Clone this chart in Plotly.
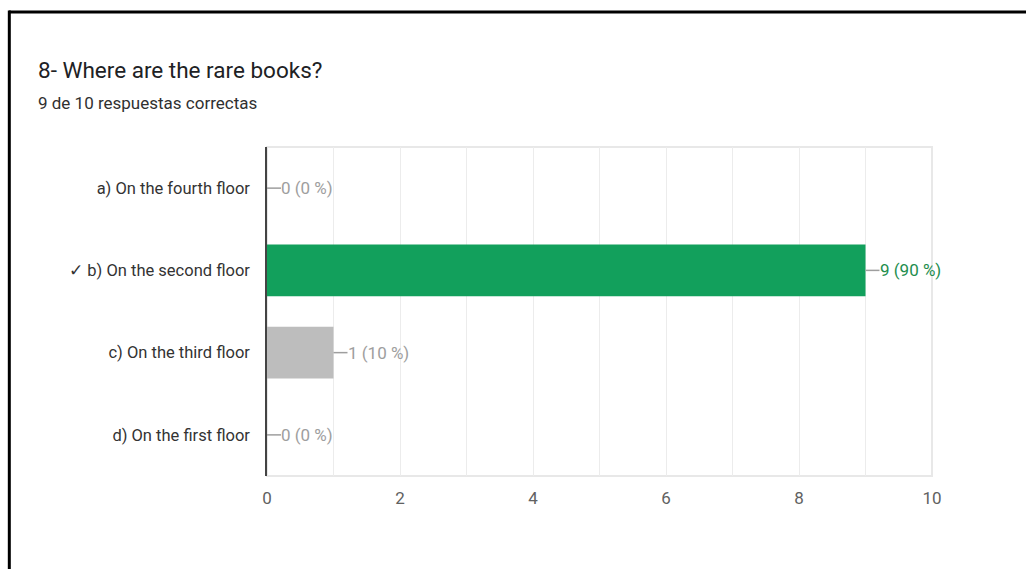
import plotly.graph_objects as go

# Quiz results: answer options, response counts, and which option is correct
categories = [
    "a) On the fourth floor",
    "✓ b) On the second floor",
    "c) On the third floor",
    "d) On the first floor",
]
counts = [0, 9, 1, 0]
correct = [False, True, False, False]
total_responses = 10
x_ticks = [0, 2, 4, 6, 8, 10]

GREEN = "#12a05c"
GREEN_TEXT = "#1e8e4e"
GREY_BAR = "#bdbdbd"
GREY_TEXT = "#9e9e9e"
FONT = "Roboto"

bar_colors = [GREEN if c else GREY_BAR for c in correct]

fig = go.Figure(
    go.Bar(
        x=counts,
        y=categories,
        orientation="h",
        marker=dict(color=bar_colors, line=dict(width=0)),
        width=0.63,
        hoverinfo="skip",
    )
)

# Value labels with a short leader line from the bar end
shapes = []
annotations = []
for cat, n, ok in zip(categories, counts, correct):
    pct = round(100 * n / total_responses)
    shapes.append(dict(
        type="line", xref="x", yref="y",
        xsizemode="pixel", xanchor=n, x0=0, x1=14,
        y0=cat, y1=cat,
        line=dict(color="#9e9e9e", width=1.5),
    ))
    annotations.append(dict(
        x=n, y=cat, xref="x", yref="y",
        text=f"{n} ({pct} %)", showarrow=False,
        xanchor="left", yanchor="middle", xshift=12,
        font=dict(family=FONT, size=17, color=GREEN_TEXT if ok else GREY_TEXT),
    ))

# Light plot-area frame
shapes.append(dict(
    type="rect", xref="paper", yref="paper", x0=0, x1=1, y0=0, y1=1,
    line=dict(color="#e8e8e8", width=2), layer="below",
))
# Outer black card border (top and left edges)
shapes.append(dict(
    type="line", xref="paper", yref="paper",
    x0=-0.388, x1=1.15, y0=1.4105, y1=1.4105,
    line=dict(color="black", width=3),
))
shapes.append(dict(
    type="line", xref="paper", yref="paper",
    x0=-0.3875, x1=-0.3875, y0=-0.3, y1=1.415,
    line=dict(color="black", width=3),
))

annotations.append(dict(
    x=-0.347, y=1.234, xref="paper", yref="paper",
    text="8- Where are the rare books?", showarrow=False,
    xanchor="left", yanchor="middle",
    font=dict(family=FONT, size=22.5, color="#202124"),
))
annotations.append(dict(
    x=-0.347, y=1.134, xref="paper", yref="paper",
    text=f"{sum(n for n, ok in zip(counts, correct) if ok)} de {total_responses} respuestas correctas",
    showarrow=False, xanchor="left", yanchor="middle",
    font=dict(family=FONT, size=17, color="#303030"),
))

fig.update_layout(
    width=1026, height=569,
    margin=dict(l=267, r=94, t=147, b=93),
    paper_bgcolor="white", plot_bgcolor="white",
    showlegend=False,
    shapes=shapes,
    annotations=annotations,
    font=dict(family=FONT),
    xaxis=dict(
        range=[0, 10],
        tickvals=x_ticks,
        showgrid=True, gridcolor="#ececec", gridwidth=1,
        minor=dict(dtick=1, showgrid=True, gridcolor="#ececec", gridwidth=1),
        zeroline=False, showline=False,
        ticks="",
        ticklabelstandoff=10,
        tickfont=dict(family=FONT, size=17, color="#616161"),
        fixedrange=True,
    ),
    yaxis=dict(
        categoryorder="array", categoryarray=categories,
        autorange="reversed",
        showgrid=False, zeroline=False,
        showline=True, linecolor="#444444", linewidth=1.5,
        ticks="",
        ticklabelstandoff=12,
        tickfont=dict(family=FONT, size=16.5, color="#333333"),
        fixedrange=True,
    ),
)

fig.write_html("out.html")
